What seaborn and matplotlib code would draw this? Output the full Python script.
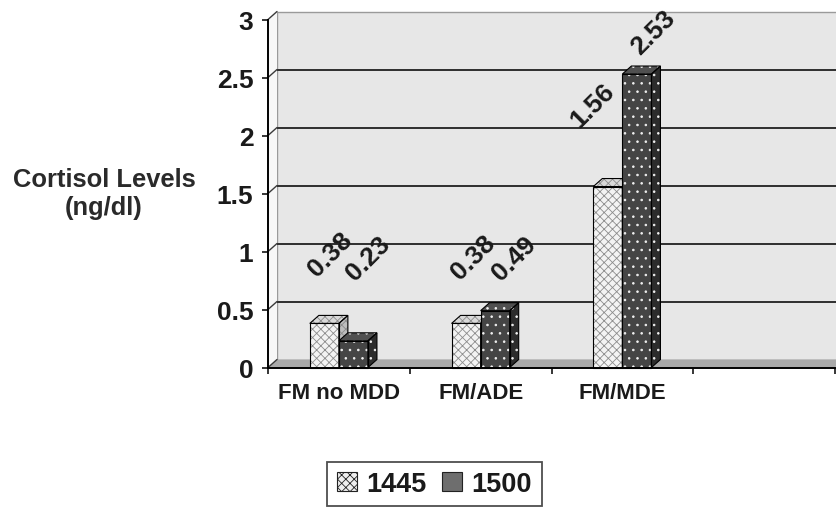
import numpy as np
import pandas as pd
import matplotlib
matplotlib.use("Agg")
import matplotlib.pyplot as plt
import seaborn as sns
from matplotlib.patches import Polygon, Patch
from matplotlib.ticker import FixedLocator, FuncFormatter

# ---- data -------------------------------------------------------------
groups = ["FM no MDD", "FM/ADE", "FM/MDE"]
times = ["1445", "1500"]
cortisol_1445 = [0.38, 0.38, 1.56]
cortisol_1500 = [0.23, 0.49, 2.53]
y_ticks = [0, 0.5, 1, 1.5, 2, 2.5, 3]
y_title = "Cortisol Levels\n(ng/dl)"

# ---- layout -----------------------------------------------------------
# nudges (points) of the slanted value labels from each bar's top centre
label_nudge = {
    "1445": [(4, 50), (5, 48), (-11, 59)],
    "1500": [(11, 60), (14, 38), (12, 30)],
}
W, H = 836, 510
depth_px = (9, 8)          # pseudo-3D depth of bars and back wall

df = pd.DataFrame({
    "group": groups * 2,
    "time": [times[0]] * len(groups) + [times[1]] * len(groups),
    "value": cortisol_1445 + cortisol_1500,
})

sns.set_theme(style="white")
plt.rcParams["font.family"] = ["Liberation Sans", "DejaVu Sans"]
plt.rcParams["font.weight"] = "bold"
plt.rcParams["hatch.linewidth"] = 0.6

fig = plt.figure(figsize=(W / 100, H / 100), dpi=100)
ax_l, ax_b, ax_w, ax_h = 268, 368.5, 567, 348
ax = fig.add_axes([ax_l / W, (H - ax_b) / H, ax_w / W, ax_h / H])

styles = {
    "1445": dict(front="#f3f3f3", top="#d9d9d9", side="#bdbdbd",
                 hatch="xxxx", hc="#8c8c8c"),
    "1500": dict(front="#454545", top="#505050", side="#2c2c2c",
                 hatch="..", hc="#f2f2f2"),
}

sns.barplot(data=df, x="group", y="value", hue="time", order=groups,
            hue_order=times, width=0.41, errorbar=None, ax=ax, legend=False,
            palette=[styles[t]["front"] for t in times], saturation=1,
            linewidth=0)

x0, x1 = -0.5, 3.5
y0, y1 = 0, 3
ax.set_xlim(x0, x1)
ax.set_ylim(y0, y1)

dx = depth_px[0] * (x1 - x0) / ax_w
dy = depth_px[1] * (y1 - y0) / ax_h


def poly(pts, z, fc="none", ec="none", lw=0, hatch=None):
    p = Polygon(pts, closed=True, facecolor=fc, edgecolor=ec, lw=lw,
                hatch=hatch, zorder=z, clip_on=False)
    ax.add_patch(p)
    return p


# back wall, side wall and floor
poly([(x0 + dx, dy), (x1 + dx, dy), (x1 + dx, y1 + dy), (x0 + dx, y1 + dy)],
     0.1, fc="#e7e7e7", ec="#9a9a9a", lw=1.0)
poly([(x0, 0), (x0 + dx, dy), (x0 + dx, y1 + dy), (x0, y1)], 0.1,
     fc="#f7f7f7")
poly([(x0, 0), (x1, 0), (x1 + dx, dy), (x0 + dx, dy)], 0.2, fc="#a9a9a9")

# gridlines on the back wall plus their short run across the side wall
for v in y_ticks:
    if 0 < v < y1:
        ax.plot([x0 + dx, x1 + dx], [v + dy, v + dy], color="#2e2e2e",
                lw=1.4, zorder=0.3, clip_on=False, solid_capstyle="butt")
    ax.plot([x0, x0 + dx], [v, v + dy], color="#3a3a3a", lw=1.0,
            zorder=0.3, clip_on=False)

# bars: seaborn front faces plus top and side faces
for k, (t, cont) in enumerate(zip(times, ax.containers)):
    st = styles[t]
    z = 3 + k
    for rect in cont:
        bx, bw, bh = rect.get_x(), rect.get_width(), rect.get_height()
        rect.set_zorder(z)
        rect.set_linewidth(0)
        front = [(bx, 0), (bx + bw, 0), (bx + bw, bh), (bx, bh)]
        top = [(bx, bh), (bx + bw, bh), (bx + bw + dx, bh + dy),
               (bx + dx, bh + dy)]
        side = [(bx + bw, 0), (bx + bw + dx, dy), (bx + bw + dx, bh + dy),
                (bx + bw, bh)]
        poly(front, z + 0.01, ec=st["hc"], hatch=st["hatch"])
        poly(top, z + 0.02, fc=st["top"])
        poly(top, z + 0.03, ec=st["hc"], hatch=st["hatch"])
        poly(side, z + 0.02, fc=st["side"])
        poly(side, z + 0.03, ec=st["hc"], hatch=st["hatch"])
        for pts in (front, top, side):
            poly(pts, z + 0.05, ec="black", lw=0.8)

# slanted value labels
for t, cont, vals in zip(times, ax.containers, [cortisol_1445, cortisol_1500]):
    for rect, v, nudge in zip(cont, vals, label_nudge[t]):
        ax.annotate(f"{v:.2f}", xy=(rect.get_x() + rect.get_width() / 2, v),
                    xytext=nudge, textcoords="offset points", rotation=45,
                    rotation_mode="anchor", ha="center", va="center",
                    fontsize=19, fontweight="bold", color="#1a1a1a",
                    zorder=10, annotation_clip=False)

# axes styling
for s in ("top", "right"):
    ax.spines[s].set_visible(False)
for s in ("left", "bottom"):
    ax.spines[s].set_color("black")
    ax.spines[s].set_linewidth(1.4)
    ax.spines[s].set_zorder(6)
ax.set_facecolor("none")
ax.set_xlabel("")
ax.set_ylabel("")

ax.yaxis.set_major_locator(FixedLocator(y_ticks))
ax.yaxis.set_major_formatter(FuncFormatter(lambda v, _: f"{v:g}"))
ax.tick_params(axis="y", which="major", direction="out", length=4.5,
               width=1.1, color="black", pad=6, labelsize=19,
               labelcolor="#1a1a1a", left=True)

ax.set_xticks(range(len(groups)))
ax.set_xticklabels(groups)
ax.xaxis.set_minor_locator(FixedLocator(np.arange(x0, x1 + 0.01, 1.0)))
ax.tick_params(axis="x", which="major", length=0, pad=10.5, labelsize=16,
               labelcolor="#1a1a1a")
ax.tick_params(axis="x", which="minor", direction="out", length=4.5,
               width=1.1, color="black", bottom=True)
for lab in ax.get_xticklabels() + ax.get_yticklabels():
    lab.set_fontweight("bold")

fig.text(104 / W, (H - 194) / H, y_title, ha="center", va="center",
         multialignment="center", fontsize=18.4, fontweight="bold",
         color="#2a2a2a", linespacing=1.2)

handles = [
    Patch(facecolor="#eeeeee", edgecolor="#222222", hatch="xxxx", lw=0.8),
    Patch(facecolor="#6e6e6e", edgecolor="#222222", lw=0.8),
]
leg = fig.legend(handles, times, loc="center",
                 bbox_to_anchor=(434.5 / W, (H - 485) / H),
                 ncol=2, fontsize=19.5, frameon=True, fancybox=False,
                 edgecolor="#222222", handlelength=0.75, handleheight=0.75,
                 handletextpad=0.35, columnspacing=0.55, borderpad=0.35,
                 prop={"weight": "bold", "size": 19.5})
leg.get_frame().set_linewidth(1.3)
for txt in leg.get_texts():
    txt.set_color("#1a1a1a")

fig.savefig("out.png", dpi=100, facecolor="white")
